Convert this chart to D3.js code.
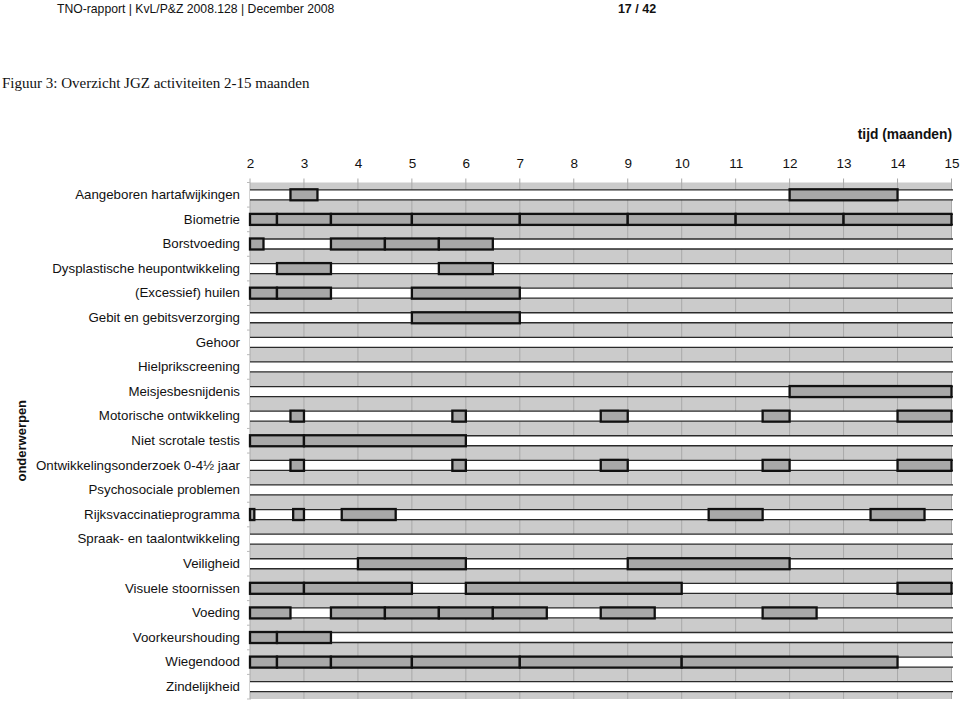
<!DOCTYPE html>
<html>
<head>
<meta charset="utf-8">
<script src="https://cdn.jsdelivr.net/npm/d3@7"></script>
<style>
  html, body { margin: 0; padding: 0; background: #fff; }
  svg { display: block; }
</style>
</head>
<body>
<svg id="chart" width="960" height="702"></svg>
<script>
// ---- data ----
const categories = [
  "Aangeboren hartafwijkingen",
  "Biometrie",
  "Borstvoeding",
  "Dysplastische heupontwikkeling",
  "(Excessief) huilen",
  "Gebit en gebitsverzorging",
  "Gehoor",
  "Hielprikscreening",
  "Meisjesbesnijdenis",
  "Motorische ontwikkeling",
  "Niet scrotale testis",
  "Ontwikkelingsonderzoek 0-4½ jaar",
  "Psychosociale problemen",
  "Rijksvaccinatieprogramma",
  "Spraak- en taalontwikkeling",
  "Veiligheid",
  "Visuele stoornissen",
  "Voeding",
  "Voorkeurshouding",
  "Wiegendood",
  "Zindelijkheid"
];
// activity periods per topic: [start month, end month]
const segmentStarts = [
  [2.75, 12],
  [2, 2.5, 3.5, 5, 7, 9, 11, 13],
  [2, 3.5, 4.5, 5.5],
  [2.5, 5.5],
  [2, 2.5, 5],
  [5],
  [],
  [],
  [12],
  [2.75, 5.75, 8.5, 11.5, 14],
  [2, 3],
  [2.75, 5.75, 8.5, 11.5, 14],
  [],
  [2, 2.8, 3.7, 10.5, 13.5],
  [],
  [4, 9],
  [2, 3, 6, 14],
  [2, 3.5, 4.5, 5.5, 6.5, 8.5, 11.5],
  [2, 2.5],
  [2, 2.5, 3.5, 5, 7, 10],
  []
];
const segmentEnds = [
  [3.25, 14],
  [2.5, 3.5, 5, 7, 9, 11, 13, 15],
  [2.25, 4.5, 5.5, 6.5],
  [3.5, 6.5],
  [2.5, 3.5, 7],
  [7],
  [],
  [],
  [15],
  [3, 6, 9, 12, 15],
  [3, 6],
  [3, 6, 9, 12, 15],
  [],
  [2.08, 3, 4.7, 11.5, 14.5],
  [],
  [6, 12],
  [3, 5, 10, 15],
  [2.75, 4.5, 5.5, 6.5, 7.5, 9.5, 12.5],
  [2.5, 3.5],
  [2.5, 3.5, 5, 7, 10, 14],
  []
];
const monthTicks = [2, 3, 4, 5, 6, 7, 8, 9, 10, 11, 12, 13, 14, 15];

const headerText = "TNO-rapport | KvL/P&Z 2008.128 | December 2008";
const pageText = "17 / 42";
const titleText = "Figuur 3: Overzicht JGZ activiteiten 2-15 maanden";
const xTitle = "tijd (maanden)";
const yTitle = "onderwerpen";

// ---- layout ----
const svg = d3.select("#chart");
const pLeft = 250, pRight = 951.5, pTop = 182.5, pBottom = 699;
const sans = "'Liberation Sans', Arial, Helvetica, sans-serif";

const x = d3.scaleLinear().domain([2, 15]).range([pLeft, pRight]);
const y = d3.scaleBand().domain(categories).range([pTop, pBottom]).paddingInner(0).paddingOuter(0);
const bandH = 10;

// header texts
svg.append("text").attr("x", 57).attr("y", 12.5)
  .attr("font-family", sans).attr("font-size", 12.2).attr("fill", "#111").text(headerText);
svg.append("text").attr("x", 637).attr("y", 12.5).attr("text-anchor", "middle")
  .attr("font-family", sans).attr("font-size", 12.5).attr("font-weight", "bold").attr("fill", "#111").text(pageText);
svg.append("text").attr("x", 2).attr("y", 88)
  .attr("font-family", "'Liberation Serif', 'Times New Roman', serif").attr("font-size", 15).attr("fill", "#111").text(titleText);

// plot background
svg.append("rect").attr("x", pLeft).attr("y", pTop).attr("width", pRight - pLeft).attr("height", pBottom - pTop)
  .attr("fill", "#cbcbcb");

// vertical gridlines
svg.append("g").selectAll("line").data(monthTicks).join("line")
  .attr("x1", d => x(d)).attr("x2", d => x(d))
  .attr("y1", pTop - 4).attr("y2", pBottom)
  .attr("stroke", "#a9a9a9").attr("stroke-width", 1);

// top axis with labels
const xAxis = d3.axisTop(x).tickValues(monthTicks).tickSize(0).tickPadding(0).tickFormat(d3.format("d"));
const gx = svg.append("g").attr("transform", `translate(0,${168})`).call(xAxis);
gx.select(".domain").remove();
gx.selectAll("text").attr("font-family", sans).attr("font-size", 13.5).attr("fill", "#111").attr("dy", 0);

svg.append("text").attr("x", 952).attr("y", 139).attr("text-anchor", "end")
  .attr("font-family", sans).attr("font-size", 13.8).attr("font-weight", "bold").attr("fill", "#111").text(xTitle);

// left axis (labels)
const yAxis = d3.axisLeft(y).tickSize(0).tickPadding(10);
const gy = svg.append("g").attr("transform", `translate(${pLeft},0)`).call(yAxis);
gy.select(".domain").attr("stroke", "#bbb");
gy.selectAll("text").attr("font-family", sans).attr("font-size", 13.3).attr("fill", "#111");
// small tick marks at row boundaries
svg.append("g").selectAll("line").data(d3.range(categories.length + 1)).join("line")
  .attr("x1", pLeft - 3).attr("x2", pLeft)
  .attr("y1", i => pTop + i * y.step()).attr("y2", i => pTop + i * y.step())
  .attr("stroke", "#bbb");

svg.append("text")
  .attr("transform", `translate(26,${(pTop + pBottom) / 2}) rotate(-90)`)
  .attr("text-anchor", "middle")
  .attr("font-family", sans).attr("font-size", 13).attr("font-weight", "bold").attr("fill", "#111").text(yTitle);

// white bands
const rows = svg.append("g");
categories.forEach((c) => {
  const cy = y(c) + y.bandwidth() / 2;
  rows.append("rect").attr("x", pLeft).attr("y", cy - bandH / 2)
    .attr("width", pRight + 1.5 - pLeft).attr("height", bandH).attr("fill", "#fff");
  rows.append("line").attr("x1", pLeft).attr("x2", pRight + 1.5)
    .attr("y1", cy - bandH / 2).attr("y2", cy - bandH / 2).attr("stroke", "#2a2a2a").attr("stroke-width", 1.3);
  rows.append("line").attr("x1", pLeft).attr("x2", pRight + 1.5)
    .attr("y1", cy + bandH / 2).attr("y2", cy + bandH / 2).attr("stroke", "#2a2a2a").attr("stroke-width", 1.3);
});

// activity bars
const segs = [];
categories.forEach((c, i) => {
  segmentStarts[i].forEach((s, j) => segs.push({ cat: c, start: s, end: segmentEnds[i][j] }));
});
svg.append("g").selectAll("rect").data(segs).join("rect")
  .attr("x", d => x(d.start))
  .attr("y", d => y(d.cat) + y.bandwidth() / 2 - bandH / 2 - 0.5)
  .attr("width", d => x(d.end) - x(d.start))
  .attr("height", bandH + 1)
  .attr("fill", "#a8a8a8")
  .attr("stroke", "#111")
  .attr("stroke-width", 2.3);
</script>
</body>
</html>
